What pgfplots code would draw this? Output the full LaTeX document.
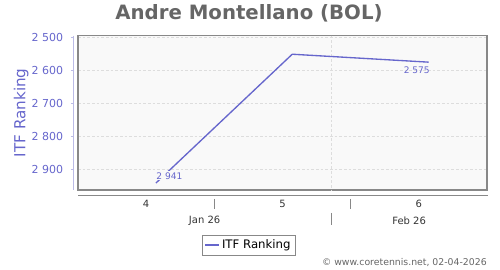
\documentclass[border=0pt]{standalone}
\usepackage{pgfplots}
\pgfplotsset{compat=1.18}
\usepackage{fontspec}
\setmainfont{DejaVu Sans}
\definecolor{lineblue}{HTML}{6666CC}
\definecolor{titlegray}{HTML}{666666}
\definecolor{bgcol}{HTML}{F9F9F9}
\definecolor{gridcol}{HTML}{DDDDDD}
\definecolor{boxcol}{HTML}{888888}
\definecolor{yaxcol}{HTML}{BBBBE6}
\definecolor{darktext}{HTML}{333333}
\begin{document}
\begin{tikzpicture}
\useasboundingbox (0,0) rectangle (375pt,202.5pt);
% title
\node[font=\fontsize{14.8}{16}\selectfont\bfseries, text=titlegray] at (186.75pt,192.4pt) {Andre Montellano (BOL)};
% copyright
\node[font=\fontsize{7}{8}\selectfont, text=titlegray, anchor=east, inner sep=0pt] at (365.25pt,5.25pt) {© www.coretennis.net, 02-04-2026};
% separate y axis
\begin{axis}[
  at={(55pt,60pt)}, anchor=south west, scale only axis,
  width=1pt, height=115.7pt,
  xmin=0, xmax=1, ymin=2495, ymax=2962, y dir=reverse,
  hide x axis, axis y line*=left,
  axis line style={yaxcol, line width=0.8pt},
  ytick={2500,2600,2700,2800,2900},
  yticklabels={2 500,2 600,2 700,2 800,2 900},
  tick align=outside, major tick length=1.8pt,
  tick style={yaxcol, line width=0.6pt},
  yticklabel style={font=\fontsize{8.25}{9}\selectfont, text=lineblue, anchor=east, inner sep=0pt, xshift=-5.7pt},
  ylabel={ITF Ranking},
  ylabel style={font=\fontsize{11.4}{12}\selectfont, text=lineblue, at={(rel axis cs:0,0.5)}, anchor=center, yshift=39.2pt},
]
\end{axis}
% main plot
\begin{axis}[
  at={(58.5pt,60pt)}, anchor=south west, scale only axis,
  width=306.75pt, height=115.7pt,
  xmin=-7, xmax=14, ymin=2495, ymax=2962, y dir=reverse,
  axis background/.style={fill=bgcol},
  axis line style={boxcol, line width=0.8pt},
  ytick={2500,2600,2700,2800,2900}, yticklabels={},
  ymajorgrids,
  major grid style={gridcol, dash pattern=on 2pt off 1.5pt, line width=0.5pt},
  xtick={-3.5,3.5,10.5}, xticklabels={4,5,6},
  major tick length=0pt, tick style={draw=none},
  xticklabel style={font=\fontsize{7.5}{8}\selectfont, text=darktext, anchor=center, yshift=-10.5pt},
  clip=false,
  legend style={at={(0.418,-0.356)}, anchor=center, draw=boxcol, fill=white,
    font=\fontsize{8.8}{10}\selectfont, inner sep=1.5pt, row sep=0pt},
  legend image code/.code={\draw[#1] (0pt,0pt) -- (10pt,0pt);},
  legend cell align=left,
]
\draw[gridcol, dash pattern=on 2pt off 1.5pt, line width=0.5pt] (axis cs:6,2495) -- (axis cs:6,2962);
\addplot[lineblue, line width=1pt] coordinates {(-3,2941) (4,2551) (11,2575)};
\addlegendentry{ITF Ranking}
\node[font=\fontsize{6.8}{7}\selectfont, text=lineblue, fill=bgcol, inner sep=1pt, xshift=10.1pt, yshift=5.5pt] at (axis cs:-3,2941) {2 941};
\node[font=\fontsize{6.8}{7}\selectfont, text=lineblue, inner sep=1pt, xshift=-8.85pt, yshift=-6.4pt] at (axis cs:11,2575) {2 575};
% lower x axis decorations
\draw[boxcol, line width=0.6pt] ([yshift=-4pt]rel axis cs:0,0) -- ([yshift=-4pt,xshift=0.75pt]rel axis cs:1,0);
\draw[boxcol, line width=0.5pt] ([yshift=-6.75pt]axis cs:0,2962) -- ([yshift=-14.25pt]axis cs:0,2962);
\draw[boxcol, line width=0.5pt] ([yshift=-6.75pt]axis cs:7,2962) -- ([yshift=-14.25pt]axis cs:7,2962);
\draw[boxcol, line width=0.5pt] ([yshift=-17.25pt]axis cs:6,2962) -- ([yshift=-26.25pt]axis cs:6,2962);
\node[font=\fontsize{7.5}{8}\selectfont, text=darktext] at ([yshift=-23.25pt]axis cs:-0.5,2962) {Jan 26};
\node[font=\fontsize{7.5}{8}\selectfont, text=darktext] at ([yshift=-23.25pt]axis cs:10,2962) {Feb 26};
\end{axis}
\end{tikzpicture}
\end{document}
